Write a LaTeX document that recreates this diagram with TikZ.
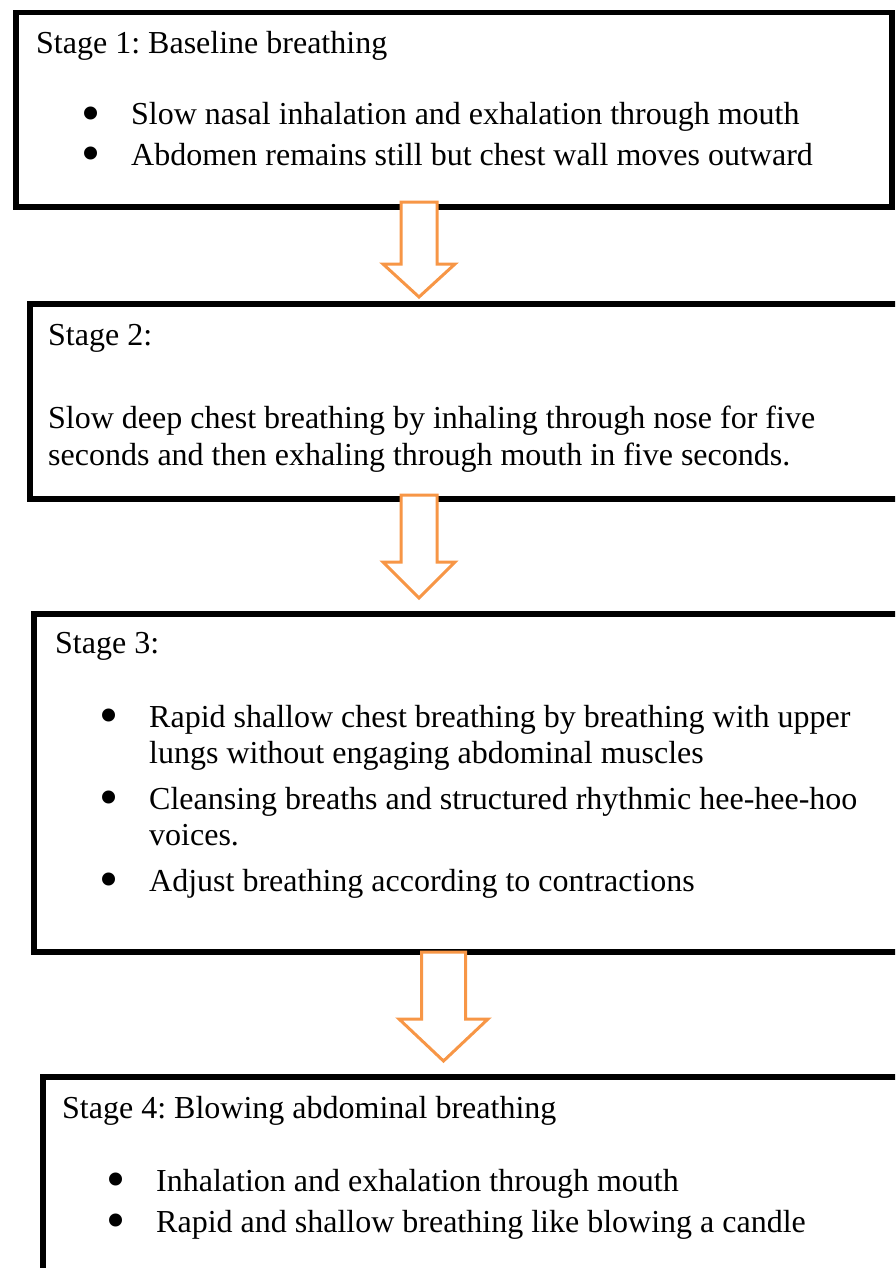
\documentclass[tikz,border=0pt]{standalone}
\usepackage{fontspec}
\setmainfont{Liberation Serif}
\usepackage{graphicx}
\frenchspacing
\definecolor{arrorange}{RGB}{247,150,70}
\newcommand{\bul}{\makebox[80pt]{\raisebox{-6pt}[10pt][0pt]{\scalebox{1.7}{\textbullet}}}}
% hollow down arrow: centre x, top y, tip y, shaft half width, head half width, head length
\newcommand{\blockarrow}[6]{\draw[downarrow] (#1-#4,#2) -- (#1-#4,#3-#6) -- (#1-#5,#3-#6) -- (#1,#3) -- (#1+#5,#3-#6) -- (#1+#4,#3-#6) -- (#1+#4,#2) -- cycle;}

\begin{document}
\begin{tikzpicture}[x=1pt,y=-1pt,
  stagebox/.style={draw=black,line width=5.5pt,fill=white,inner sep=0pt,anchor=north west},
  stagetext/.style={inner sep=0pt,anchor=base west,font=\rmfamily\fontsize{32}{37}\selectfont},
  downarrow/.style={draw=arrorange,line width=3pt,fill=white,line join=miter}]
\useasboundingbox (0,0) rectangle (895,1268);
\clip (0,0) rectangle (895,1268); %boxes 2-4 run off the page
\node[stagebox,minimum width=876,minimum height=194] (s1) at (13,10) {};
\node[stagebox,minimum width=900,minimum height=195] (s2) at (27,301) {};
\node[stagebox,minimum width=900,minimum height=338] (s3) at (31,611) {};
\node[stagebox,minimum width=900,minimum height=300] (s4) at (40,1074) {};
% arrows
\blockarrow{419}{202}{297}{18}{36}{33}
\blockarrow{419}{495}{598}{18}{36}{36}
\blockarrow{443.5}{952}{1061}{22}{44.5}{42}
% stage 1
\node[stagetext] (t1) at (36,54) {Stage 1: Baseline breathing};
\node[stagetext] (b1) at (51,125) {\begin{tabular}[t]{@{}l@{}l@{}}
\bul & Slow nasal inhalation and exhalation through mouth\\[4pt]
\bul & Abdomen remains still but chest wall moves outward
\end{tabular}};
% stage 2
\node[stagetext] (t2) at (48,345) {Stage 2:};
\node[stagetext] (b2) at (48,428) {\begin{tabular}[t]{@{}l@{}}
Slow deep chest breathing by inhaling through nose for five\\
seconds and then exhaling through mouth in five seconds.
\end{tabular}};
% stage 3
\node[stagetext] (t3) at (55,653) {Stage 3:};
\node[stagetext] (b3) at (69,727) {\begin{tabular}[t]{@{}l@{}l@{}}
\bul & Rapid shallow chest breathing by breathing with upper\\[-1pt]
 & lungs without engaging abdominal muscles\\[9pt]
\bul & Cleansing breaths and structured rhythmic hee-hee-hoo\\[-1pt]
 & voices.\\[9pt]
\bul & Adjust breathing according to contractions
\end{tabular}};
% stage 4
\node[stagetext] (t4) at (62,1118) {Stage 4: Blowing abdominal breathing};
\node[stagetext] (b4) at (76,1191) {\begin{tabular}[t]{@{}l@{}l@{}}
\bul & Inhalation and exhalation through mouth\\[4pt]
\bul & Rapid and shallow breathing like blowing a candle
\end{tabular}};
\end{tikzpicture}
\end{document}
